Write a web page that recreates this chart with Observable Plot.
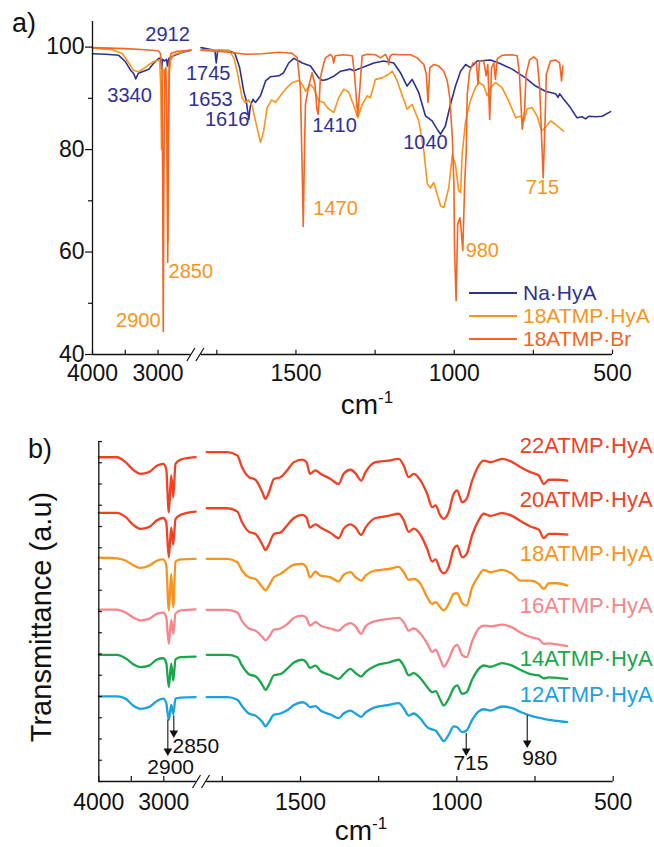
<!DOCTYPE html>
<html><head><meta charset="utf-8">
<script src="https://cdn.jsdelivr.net/npm/d3@7"></script>
<script src="https://cdn.jsdelivr.net/npm/@observablehq/plot@0.6"></script>
<style>
html,body{margin:0;padding:0;background:#fff;}
#fig{position:relative;width:654px;height:847px;overflow:hidden;font-family:"Liberation Sans",Arial,sans-serif;color:#111;}
#fig svg{position:absolute;left:0;}
.lbl{position:absolute;white-space:nowrap;}
.lbl sup{line-height:0;font-size:17px;vertical-align:11px;}
</style></head><body><div id="fig"></div>
<script>
// ---------------- Panel a data: [wavenumber, %T] ----------------
const naHyA_left = [[4000,98.7],[3800,98.6],[3600,98.4],[3500,97.2],[3420,95.5],[3370,94.8],[3340,93.8],[3300,94.9],[3220,95.3],[3140,95.7],[3064,96.9],[2988,97.8],[2960,97.8],[2945,95.8],[2930,97.6],[2900,97.3],[2870,97.6],[2855,96.3],[2835,97.8],[2780,98.2],[2650,98.9],[2500,99.4]];
const naHyA_right = [[1800,99.9],[1765,99.5],[1756,99.3],[1752,96.9],[1747,99.4],[1712,99.3],[1693,98.8],[1678,96],[1665,91.4],[1657,89.5],[1649,85.9],[1644,88.5],[1636,89.8],[1628,89.2],[1612,90.5],[1596,93.4],[1581,94.2],[1554,94.4],[1539,95.0],[1523,96.9],[1507,97.8],[1491,97.3],[1480,96.9],[1454,96.3],[1428,94.0],[1417,93.5],[1401,93.7],[1381,94.3],[1359,95.3],[1328,95.7],[1317,95.4],[1286,96.1],[1254,96.9],[1223,97.3],[1191,96.9],[1170,95],[1149,92.4],[1133,93.7],[1112,91.1],[1091,86.6],[1070,85.6],[1054,84],[1043,83],[1028,84.6],[1012,88.8],[996,92.4],[980,95.3],[964,96.6],[949,96],[927,97.3],[885,97.5],[859,96.9],[817,95.7],[775,94.0],[743,92.4],[712,91.4],[680,90.9],[672,90.2],[667,90.9],[654,89.8],[633,88.2],[612,86.2],[596,86.4],[585,86.0],[575,86.5],[554,86.4],[533,86.5],[506,87.4]];
const hya18_left = [[4000,99.8],[3700,99.5],[3550,98.8],[3450,97],[3380,95.5],[3300,95.2],[3220,95.8],[3150,96.5],[3050,97.3],[2975,97.5],[2958,92],[2947,80],[2937,93],[2920,95.5],[2900,95.5],[2875,93],[2858,75],[2848,62],[2840,80],[2828,95],[2805,97.5],[2760,98.5],[2650,99],[2500,99.5]];
const hya18_right = [[1800,99.5],[1712,99.4],[1696,97.9],[1686,95.3],[1670,90.1],[1660,89.1],[1649,89.7],[1638,88.5],[1628,85.6],[1612,81.4],[1602,83.6],[1591,88.2],[1577,89.7],[1565,89.2],[1549,90.5],[1533,91.8],[1512,93.1],[1491,93.5],[1478,92.5],[1470,91.4],[1454,92.7],[1444,92.0],[1428,89.5],[1412,89.2],[1401,88.2],[1381,87.2],[1365,90.1],[1349,91.8],[1333,91.2],[1317,88.5],[1305,86.2],[1291,88.8],[1275,90.5],[1265,90.1],[1249,93.7],[1228,94],[1207,94.7],[1196,95.3],[1180,93.4],[1164,90.5],[1149,87.9],[1133,88.8],[1112,85.6],[1096,79.7],[1085,73.3],[1075,72.5],[1065,73.6],[1043,69],[1033,68.7],[1017,72.6],[1006,79],[996,77],[986,72],[980,71.6],[975,79.1],[964,85.6],[949,89.5],[933,92.1],[922,93.1],[907,92.5],[896,90.5],[885,92.1],[870,93.1],[849,92.1],[828,89.5],[806,86.2],[791,86.5],[780,85.6],[770,87.9],[754,88.2],[738,86.5],[724,83.6],[712,84.3],[696,85.6],[680,84.9],[655,83.6]];
const br18_left = [[4000,99.9],[3500,99.7],[3200,99.5],[3000,99.3],[2965,98.8],[2940,96],[2930,75],[2920,44.5],[2912,70],[2900,95],[2880,96],[2865,85],[2852,58],[2843,82],[2830,97],[2800,98.8],[2700,99.2],[2500,99.4]];
const br18_right = [[1800,99.4],[1712,99.0],[1660,98.6],[1607,98.7],[1554,99],[1512,98.8],[1496,97.9],[1486,92.1],[1480,75],[1477,65],[1473,80],[1470,88.8],[1461,92.1],[1449,95],[1440,92.7],[1434,88],[1430,86.9],[1426,90],[1423,94],[1412,96.9],[1407,97.9],[1391,98.6],[1384,98],[1381,96.9],[1376,98.3],[1349,98.5],[1322,98.3],[1315,94.7],[1305,86.6],[1298,92.1],[1291,98.3],[1275,98.6],[1249,98.5],[1233,97.9],[1217,98.6],[1209,97.5],[1207,96.6],[1203,98.2],[1196,98.6],[1170,98.5],[1138,98.5],[1117,97.9],[1096,96.6],[1088,94.7],[1083,89.2],[1077,96],[1065,96.6],[1049,96.3],[1033,95.3],[1022,93.4],[1014,90.1],[1006,82.3],[1001,73.3],[999,60.3],[994,50.5],[989,65.5],[982,66.7],[978,64.2],[973,60.3],[967,73.3],[962,79.7],[959,90.8],[951,95.3],[941,96.9],[930,96.9],[925,92.7],[920,97.3],[907,97.3],[899,94.4],[894,96.6],[888,85.9],[882,96],[875,96.9],[870,93.7],[864,97.7],[849,98.4],[817,98.5],[801,98.3],[794,94.7],[785,84],[778,87.5],[773,94.7],[762,97.5],[749,98.1],[738,97.5],[730,92.1],[724,82.3],[719,74.5],[713,85.6],[709,94.7],[696,97.3],[680,97.5],[667,96.9],[661,93.4],[657,96.3]];

const xMajorA = [4000, 3000, 1500, 1000, 500];
const xMinorA = [3500, 1750, 1250, 750];
const yMajorA = [40, 60, 80, 100];
const yMinorA = [50, 70, 90];
const breakAt = [2150];

const blueLabels = [{t:"2912",w:2855,v:102.5,a:"middle"},{t:"3340",w:3435,v:90.5,a:"middle"},{t:"1745",w:1707,v:94.9,a:"end"},{t:"1653",w:1700,v:89.7,a:"end"},{t:"1616",w:1647,v:85.8,a:"end"},{t:"1410",w:1378,v:84.6,a:"middle"},{t:"1040",w:1091,v:81.3,a:"middle"}];
const orangeLabels = [{t:"2900",w:2962,v:46.6,a:"end"},{t:"2850",w:2840,v:56.2,a:"start"},{t:"1470",w:1445,v:68.4,a:"start"},{t:"980",w:964,v:60.3,a:"start"},{t:"715",w:721,v:72.5,a:"middle"}];

// ---------------- Panel b data ----------------
const wnLeftB = [4000,3720,3590,3460,3360,3230,3100,3010,2963,2923,2886,2855,2820,2740,2510];
const wnRightB = [1800,1734,1702,1687,1665,1644,1622,1612,1601,1585,1564,1543,1521,1495,1481,1470,1452,1436,1404,1378,1362,1340,1324,1306,1292,1260,1218,1186,1170,1154,1138,1116,1095,1079,1068,1053,1042,1026,1010,999,983,969,951,930,914,893,855,823,796,765,738,722,706,679,647];
const t22L = [15.26,15.26,15.03,14.64,14.48,14.56,14.87,14.95,14.71,12.67,14.4,13.38,14.95,15.15,15.26];
const t22R = [15.5,15.5,15.34,14.79,14.32,14.2,13.61,13.3,13.61,14.24,14.32,14.64,15.03,15.15,15.03,14.48,14.64,14.48,14.24,14.0,14.48,14.67,14.5,14.16,14.56,15.03,15.1,15.18,14.87,14.32,14.48,14.16,13.54,12.91,12.99,12.52,12.36,12.68,13.54,13.7,13.14,13.3,14.16,14.87,15.1,15.03,15.18,15.03,14.79,14.56,14.4,14.0,14.2,14.2,14.16];
const t20L = [12.64,12.64,12.45,12.05,11.89,11.97,12.3,12.4,12.2,10.55,11.95,11.15,12.35,12.55,12.7];
const t20R = [12.86,12.86,12.7,12.2,11.75,11.65,11.15,10.89,11.15,11.65,11.72,12.05,12.4,12.55,12.42,11.95,12.1,11.95,11.7,11.45,11.9,12.1,11.95,11.6,11.95,12.4,12.5,12.6,12.3,11.75,11.9,11.6,10.95,10.35,10.45,9.95,9.8,10.1,10.95,11.1,10.55,10.7,11.6,12.3,12.6,12.5,12.63,12.5,12.25,12.0,11.85,11.45,11.65,11.65,11.62];
const t18L = [10.53,10.5,10.4,10.16,10.05,10.15,10.4,10.45,10.2,8.05,9.77,8.2,10.35,10.45,10.48];
const t18R = [10.48,10.48,10.32,9.93,9.61,9.53,9.14,8.99,9.22,9.61,9.77,10.0,10.2,10.24,10.08,9.61,9.87,9.69,9.61,9.41,9.73,9.85,9.61,9.45,9.69,9.93,10.0,10.1,9.85,9.49,9.53,9.3,8.67,8.36,8.44,8.2,8.05,8.36,8.83,8.86,8.39,8.28,9.14,9.69,9.96,9.85,9.96,9.77,9.45,9.45,9.3,9.06,9.33,9.33,9.22];
const t16L = [8.09,8.09,7.95,7.7,7.58,7.65,7.9,7.95,7.75,6.48,7.6,6.95,7.9,8.05,8.1];
const t16R = [8.08,8.08,7.95,7.55,7.2,7.1,6.8,6.64,6.8,7.15,7.2,7.4,7.7,7.81,7.7,7.34,7.5,7.34,7.2,7.1,7.3,7.45,7.3,6.95,7.3,7.55,7.65,7.7,7.5,7.1,7.2,6.95,6.5,6.1,6.2,5.75,5.41,5.75,6.3,6.43,5.95,5.85,6.6,7.2,7.34,7.3,7.38,7.25,7.0,6.8,6.7,6.48,6.5,6.45,6.37];
const t14L = [5.96,5.96,5.8,5.5,5.38,5.45,5.75,5.8,5.6,4.44,5.55,4.75,5.75,5.85,5.88];
const t14R = [5.96,5.96,5.85,5.45,5.05,4.95,4.55,4.31,4.55,5.0,5.05,5.3,5.6,5.73,5.6,5.35,5.45,5.2,5.0,4.83,5.05,5.3,5.1,4.94,5.15,5.45,5.6,5.73,5.45,5.0,5.1,4.85,4.45,4.2,4.25,3.85,3.58,3.9,4.4,4.52,4.13,4.2,4.8,5.3,5.46,5.4,5.57,5.45,5.25,5.05,4.99,4.85,4.9,4.88,4.83];
const t12L = [4.01,4.01,3.9,3.55,3.42,3.5,3.8,3.9,3.7,2.9,3.6,3.18,3.9,3.95,3.97];
const t12R = [3.97,3.97,3.85,3.55,3.2,3.1,2.8,2.6,2.8,3.15,3.2,3.35,3.6,3.73,3.65,3.5,3.55,3.34,3.15,2.98,3.2,3.34,3.2,3.04,3.25,3.5,3.6,3.69,3.45,3.1,3.2,2.95,2.56,2.45,2.4,2.1,1.9,2.2,2.59,2.55,2.32,2.4,2.9,3.3,3.4,3.34,3.53,3.45,3.27,3.1,3.0,2.95,2.9,2.85,2.79];
const seriesNamesB = ["22ATMP·HyA","20ATMP·HyA","18ATMP·HyA","16ATMP·HyA","14ATMP·HyA","12ATMP·HyA"];
const seriesLabelV = [15.81, 13.27, 10.73, 8.24, 5.79, 4.09];
const xMajorB = [4000, 3000, 1500, 1000, 500];
const xMinorB = [3500, 1750, 1250, 750];
const yTicksB = [0,1,2,3,4,5,6,7,8,9,10,11,12,13,14,15,16];
const arrowsB = [{t:"2900",w:2938,v1:2.9,v2:1.32,lw:2894,lv:0.66,a:"middle"},{t:"2850",w:2846,v1:3.1,v2:2.16,lw:2866,lv:1.65,a:"start"},{t:"715",w:970,v1:2.26,v2:1.32,lw:955,lv:0.85,a:"middle"},{t:"980",w:775,v1:3.1,v2:1.69,lw:735,lv:1.08,a:"middle"}];

// ---------------- styles ----------------
const NAVY = "#2e3192", ORANGE = "#f7941d", RED = "#f26522";
const colorsB = ["#ef4123","#ef4123","#f7941d","#f4868c","#1aa64a","#1ba1dc"];
const FONT = '"Liberation Sans", Arial, sans-serif';
const INK = "#111";
const slash = {draw(ctx){ ctx.moveTo(-9,6.5); ctx.lineTo(-1,-6.5); ctx.moveTo(0,6.5); ctx.lineTo(8,-6.5); }};
const toPts = arr => arr.map(([w, v]) => ({w, v}));
const zipPts = (ws, vs) => ws.map((w, i) => ({w, v: vs[i]}));

const fig = document.getElementById("fig");

// ---------------- Panel a ----------------
const plotA = Plot.plot({
  width: 654, height: 420,
  marginLeft: 92, marginRight: 42, marginTop: 21, marginBottom: 66,
  style: {fontFamily: FONT, background: "transparent", overflow: "visible"},
  x: {type: "linear", domain: [4000, 2500, 1800, 500], range: [92, 190.3, 200.5, 612], axis: null},
  y: {domain: [40, 105], range: [354, 21], axis: null},
  marks: [
    Plot.line(toPts(naHyA_left), {x: "w", y: "v", stroke: NAVY, strokeWidth: 1.6}),
    Plot.line(toPts(naHyA_right), {x: "w", y: "v", stroke: NAVY, strokeWidth: 1.6}),
    Plot.line(toPts(hya18_left), {x: "w", y: "v", stroke: ORANGE, strokeWidth: 1.6}),
    Plot.line(toPts(hya18_right), {x: "w", y: "v", stroke: ORANGE, strokeWidth: 1.6}),
    Plot.line(toPts(br18_left), {x: "w", y: "v", stroke: RED, strokeWidth: 1.6}),
    Plot.line(toPts(br18_right), {x: "w", y: "v", stroke: RED, strokeWidth: 1.6}),
    // axes
    Plot.ruleX([4000], {x: d => d, y1: 40, y2: 105, stroke: INK, strokeWidth: 1.3}),
    Plot.ruleY([40], {y: d => d, x1: 4000, x2: 2500, stroke: INK, strokeWidth: 1.3}),
    Plot.ruleY([40], {y: d => d, x1: 1800, x2: 500, stroke: INK, strokeWidth: 1.3}),
    Plot.ruleX([...xMajorA, ...xMinorA], {x: d => d, y1: 40, y2: 40.85, stroke: INK, strokeWidth: 1.2}),
    Plot.ruleY(yMajorA, {y: d => d, x1: 4000, x2: 4107, stroke: INK, strokeWidth: 1.2}),
    Plot.ruleY(yMinorA, {y: d => d, x1: 4000, x2: 4061, stroke: INK, strokeWidth: 1.2}),
    Plot.dot(breakAt, {x: d => d, y: 40, symbol: slash, stroke: INK, fill: "none", strokeWidth: 1.2, r: 5}),
    Plot.text(xMajorA, {x: d => d, y: 40, text: d => String(d), dy: 19, fontSize: 23, fill: INK}),
    Plot.text(yMajorA, {x: 4000, y: d => d, text: d => String(d), textAnchor: "end", dx: -8, fontSize: 23, fill: INK}),
    // peak labels
    ...["middle", "start", "end"].map(a => Plot.text(blueLabels.filter(d => d.a === a), {x: "w", y: "v", text: "t", textAnchor: a, fontSize: 20, fill: NAVY})),
    ...["middle", "start", "end"].map(a => Plot.text(orangeLabels.filter(d => d.a === a), {x: "w", y: "v", text: "t", textAnchor: a, fontSize: 20, fill: ORANGE}))
  ]
});
plotA.style.top = "0px";
fig.appendChild(plotA);

// ---------------- Panel b ----------------
const leftB = [t22L, t20L, t18L, t16L, t14L, t12L];
const rightB = [t22R, t20R, t18R, t16R, t14R, t12R];
const marksB = [];
seriesNamesB.forEach((name, i) => {
  marksB.push(Plot.line(zipPts(wnLeftB, leftB[i]), {x: "w", y: "v", stroke: colorsB[i], strokeWidth: 2.3, curve: "monotone-x"}));
  marksB.push(Plot.line(zipPts(wnRightB, rightB[i]), {x: "w", y: "v", stroke: colorsB[i], strokeWidth: 2.3, curve: "monotone-x"}));
  marksB.push(Plot.text([name], {x: 374, y: seriesLabelV[i], text: d => d, textAnchor: "end", fontSize: 22, fill: colorsB[i]}));
});
const plotB = Plot.plot({
  width: 654, height: 427,
  marginLeft: 98, marginRight: 41, marginTop: 21, marginBottom: 66,
  style: {fontFamily: FONT, background: "transparent", overflow: "visible"},
  x: {type: "linear", domain: [4000, 2500, 1800, 500], range: [98.3, 195.8, 206.2, 612.7], axis: null},
  y: {domain: [0, 16], range: [361, 21], axis: null},
  marks: [
    ...marksB,
    Plot.ruleX([4000], {x: d => d, y1: 0, y2: 16, stroke: INK, strokeWidth: 1.3}),
    Plot.ruleY([0], {y: d => d, x1: 4000, x2: 2500, stroke: INK, strokeWidth: 1.3}),
    Plot.ruleY([0], {y: d => d, x1: 1800, x2: 500, stroke: INK, strokeWidth: 1.3}),
    Plot.ruleX([...xMajorB, ...xMinorB], {x: d => d, y1: 0, y2: 0.23, stroke: INK, strokeWidth: 1.2}),
    Plot.ruleY(yTicksB, {y: d => d, x1: 4000, x2: 3945, stroke: INK, strokeWidth: 1.2}),
    Plot.dot(breakAt, {x: d => d, y: 0, symbol: slash, stroke: INK, fill: "none", strokeWidth: 1.2, r: 5}),
    Plot.text(xMajorB, {x: d => d, y: 0, text: d => String(d), dy: 21, fontSize: 23, fill: INK}),
    Plot.ruleX(arrowsB, {x: "w", y1: "v1", y2: "v2", stroke: INK, strokeWidth: 1.1}),
    Plot.dot(arrowsB, {x: "w", y: "v2", symbol: "triangle", rotate: 180, r: 3.2, fill: INK, stroke: "none", dy: -2.5}),
    ...["middle", "start"].map(a => Plot.text(arrowsB.filter(d => d.a === a), {x: "lw", y: "lv", text: "t", textAnchor: a, fontSize: 21, fill: INK}))
  ]
});
plotB.style.top = "420px";
fig.appendChild(plotB);

// ---------------- HTML texts ----------------
function addLabel(html, css) {
  const d = document.createElement("div");
  d.className = "lbl";
  d.innerHTML = html;
  Object.assign(d.style, css);
  fig.appendChild(d);
  return d;
}
addLabel("a)", {left: "12px", top: "10px", fontSize: "27px", lineHeight: "27px"});
addLabel("b)", {left: "28px", top: "436px", fontSize: "27px", lineHeight: "27px"});
addLabel('cm<sup>-1</sup>', {left: "317px", width: "100px", textAlign: "center", top: "391px", fontSize: "28px", lineHeight: "28px"});
addLabel('cm<sup>-1</sup>', {left: "311px", width: "100px", textAlign: "center", top: "817px", fontSize: "28px", lineHeight: "28px"});
addLabel("Transmittance (a.u)", {left: "-109px", top: "602px", width: "300px", height: "30px", lineHeight: "30px", textAlign: "center", fontSize: "29px", transform: "rotate(-90deg)"});

const legendNames = ["Na·HyA", "18ATMP·HyA", "18ATMP·Br"];
const legendColors = [NAVY, ORANGE, RED];
legendNames.forEach((n, i) => {
  const cy = 293 + i * 23;
  addLabel("", {left: "469px", top: (cy - 1) + "px", width: "48px", height: "2px", background: legendColors[i]});
  addLabel(n, {left: "523px", top: (cy - 12) + "px", lineHeight: "24px", fontSize: "21px", color: legendColors[i]});
});
</script></body></html>
